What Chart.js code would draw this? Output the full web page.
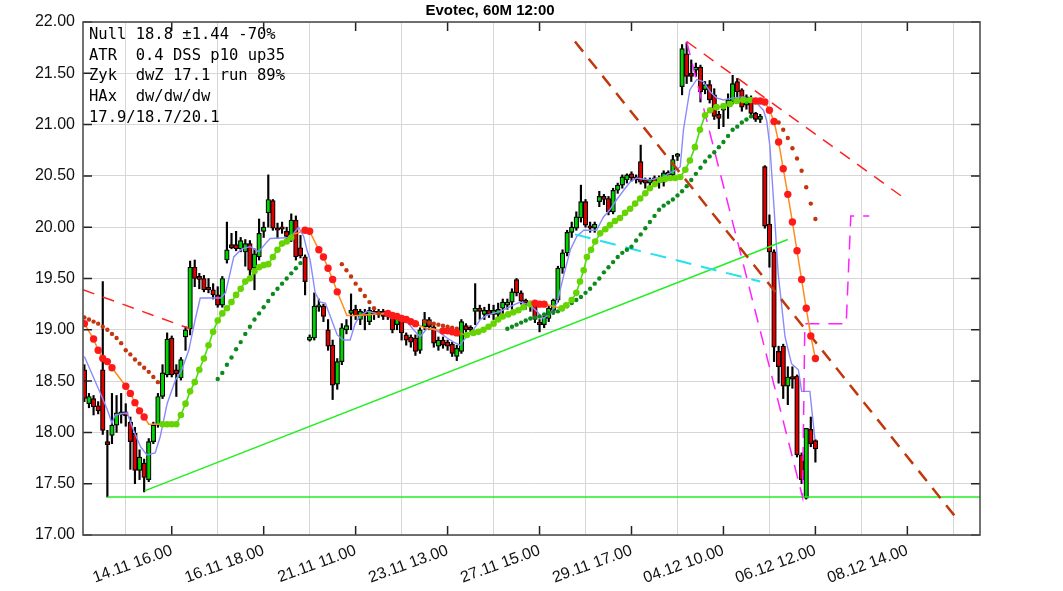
<!DOCTYPE html>
<html>
<head>
<meta charset="utf-8">
<script src="https://cdn.jsdelivr.net/npm/chart.js@4.4.0/dist/chart.umd.min.js"></script>
<style>
  html, body { margin: 0; padding: 0; background: #fff; overflow: hidden; }
  canvas { display: block; }
</style>
</head>
<body>
<canvas id="chart" width="1063" height="591" style="width:1063px;height:591px"></canvas>
<script>
// x ticks (bar index) and their labels
const tickIdx = [19, 39, 59, 79, 99, 119, 139, 159, 179];
const tickLabels = ['14.11 16.00', '16.11 18.00', '21.11 11.00', '23.11 13.00', '27.11 15.00',
    '29.11 17.00', '04.12 10.00', '06.12 12.00', '08.12 14.00'];

// 60 minute candles
const opens = [18.61,18.28,18.33,18.26,18.61,17.91,17.97,18.07,18.17,18.20,
    18.10,17.99,17.63,17.70,17.54,17.91,18.07,18.35,18.56,18.92,
    18.61,18.53,18.93,19.01,19.61,19.52,19.50,19.41,19.39,19.34,
    19.24,19.68,19.83,19.83,19.79,19.76,19.84,19.60,19.71,19.96,
    20.14,20.26,19.99,20.00,19.96,19.91,20.07,19.80,19.71,18.90,
    18.92,19.22,19.23,19.00,18.85,18.47,18.69,19.00,19.16,19.20,
    19.10,19.17,19.08,19.18,19.15,19.18,19.16,19.13,19.05,19.11,
    18.95,18.93,18.92,18.80,19.03,19.10,19.03,18.84,18.90,18.88,
    18.86,18.74,18.79,19.04,19.02,19.18,19.21,19.15,19.19,19.15,
    19.15,19.21,19.24,19.27,19.49,19.36,19.29,19.24,19.26,19.07,
    19.05,19.11,19.19,19.29,19.60,19.75,19.95,19.99,20.09,20.25,
    20.01,19.99,20.25,20.30,20.28,20.15,20.36,20.41,20.46,20.52,
    20.49,20.64,20.46,20.43,20.48,20.48,20.44,20.51,20.51,20.69,
    21.37,21.69,21.50,21.53,21.56,21.34,21.39,21.29,21.10,21.14,
    21.19,21.22,21.42,21.34,21.19,21.26,21.11,21.05,20.59,20.03,
    19.76,18.79,18.84,18.45,18.54,18.55,17.78,17.36,18.03,17.92];
const highs = [18.66,18.38,18.36,18.30,19.47,18.02,18.38,18.36,18.38,18.28,
    18.15,18.05,17.83,17.74,17.94,18.10,18.38,18.66,18.97,18.94,
    18.66,18.73,19.03,19.67,19.68,19.55,19.53,19.50,19.45,19.42,
    19.52,20.05,19.94,19.96,19.90,19.88,19.87,19.79,20.08,20.05,
    20.51,20.27,20.04,20.05,20.00,20.13,20.11,19.92,19.73,18.95,
    19.36,19.30,19.25,19.10,18.90,18.72,19.06,19.10,19.35,19.24,
    19.20,19.20,19.22,19.20,19.20,19.20,19.18,19.15,19.14,19.12,
    18.97,18.95,18.95,19.02,19.17,19.12,19.05,18.93,18.93,18.90,
    18.88,18.85,19.10,19.06,19.04,19.45,19.24,19.22,19.25,19.24,
    19.26,19.30,19.30,19.40,19.50,19.38,19.30,19.28,19.28,19.10,
    19.15,19.24,19.30,19.62,19.78,19.97,20.05,20.15,20.41,20.27,
    20.05,20.05,20.35,20.32,20.30,20.38,20.43,20.51,20.52,20.54,
    20.51,20.80,20.48,20.48,20.50,20.50,20.55,20.55,20.70,20.72,
    21.78,21.80,21.63,21.60,21.58,21.42,21.43,21.35,21.13,21.20,
    21.30,21.48,21.45,21.35,21.29,21.28,21.12,21.10,20.60,20.12,
    19.78,18.84,18.86,18.64,18.64,18.56,17.80,18.04,18.15,17.93];
const lows = [18.30,18.24,18.17,18.18,17.98,17.37,17.89,18.00,18.09,18.06,
    17.64,17.50,17.54,17.42,17.52,17.89,18.05,18.33,18.54,18.54,
    18.35,18.51,18.80,18.95,19.42,19.40,19.37,19.36,19.30,19.22,
    19.22,19.65,19.79,19.77,19.76,19.62,19.53,19.39,19.68,19.90,
    20.00,19.97,19.89,19.94,19.89,19.86,19.68,19.70,19.34,18.89,
    18.90,19.18,19.08,18.80,18.32,18.42,18.66,18.96,19.00,19.10,
    19.05,19.00,19.05,19.10,19.12,19.10,19.10,18.97,19.00,18.90,
    18.85,18.83,18.75,18.77,19.00,19.00,18.83,18.80,18.82,18.80,
    18.74,18.70,18.77,18.98,18.98,19.05,19.10,19.10,19.12,19.10,
    19.10,19.15,19.20,19.20,19.33,19.25,19.20,19.18,19.07,18.98,
    19.02,19.08,19.15,19.27,19.55,19.72,19.90,19.97,20.05,20.00,
    19.95,19.95,20.20,20.22,20.12,20.13,20.33,20.38,20.43,20.45,
    20.43,20.42,20.38,20.40,20.40,20.38,20.40,20.48,20.50,20.65,
    21.29,21.40,21.42,21.47,21.22,21.30,21.21,21.05,20.96,20.98,
    21.06,21.20,21.26,21.13,21.15,21.08,21.03,21.02,19.99,19.61,
    18.69,18.48,18.33,18.27,18.43,17.76,17.50,17.35,17.86,17.71];
const closes = [18.33,18.35,18.25,18.21,18.02,17.88,18.07,18.19,18.20,18.16,
    17.91,17.63,17.76,17.56,17.91,18.07,18.35,18.58,18.91,18.56,
    18.57,18.71,19.00,19.61,19.50,19.49,19.39,19.39,19.34,19.24,
    19.50,19.78,19.80,19.79,19.87,19.84,19.58,19.74,19.94,20.00,
    20.27,19.99,19.97,19.98,19.91,20.07,19.71,19.72,19.47,18.93,
    19.23,19.23,19.13,18.84,18.46,18.69,19.02,19.04,19.19,19.14,
    19.18,19.14,19.19,19.15,19.18,19.13,19.13,19.00,19.11,18.97,
    18.90,18.88,18.79,19.00,19.10,19.03,18.87,18.90,18.85,18.84,
    18.77,18.82,19.08,19.00,19.00,19.21,19.18,19.19,19.15,19.19,
    19.20,19.27,19.27,19.37,19.36,19.28,19.26,19.26,19.10,19.05,
    19.13,19.21,19.29,19.60,19.75,19.95,20.00,20.10,20.25,20.02,
    19.99,20.03,20.30,20.27,20.15,20.36,20.41,20.49,20.51,20.48,
    20.46,20.44,20.43,20.46,20.44,20.44,20.53,20.53,20.66,20.71,
    21.74,21.47,21.47,21.56,21.32,21.39,21.24,21.08,21.06,21.17,
    21.24,21.40,21.32,21.17,21.27,21.11,21.05,21.08,20.01,19.76,
    18.83,18.64,18.45,18.54,18.52,17.78,17.54,18.04,17.89,17.84];

// moving average [bar, price]
const maLine = [[0,18.74],[3.5,18.38],[5,18.22],[6,18.09],[6.7,18.17],[9.3,18.19],[10.7,18.02],[12.2,17.86],
    [13.6,17.78],[15.4,17.80],[16.5,17.96],[18,18.28],[19.8,18.51],[21.2,18.61],[22.7,18.80],[24.1,19.10],
    [25.2,19.31],[29.6,19.31],[30.7,19.36],[32.5,19.71],[34.3,19.79],[36.1,19.81],[37.9,19.76],[39.4,19.84],
    [40.4,19.89],[44.8,19.90],[46.6,20.00],[47.7,19.91],[48.4,19.78],[49.1,19.68],[50.2,19.36],[51.3,19.27],
    [52.4,19.26],[53.5,19.13],[55.0,18.95],[56.4,18.90],[57.8,18.90],[58.9,19.06],[60.0,19.14],[61.5,19.18],
    [63.6,19.16],[66.5,19.16],[68.0,19.11],[70.1,19.08],[71.6,19.00],[73.0,18.93],[74.5,19.01],[75.9,19.01],
    [77.4,18.97],[78.9,18.92],[80.3,18.88],[81.7,18.85],[83.2,18.94],[84.6,19.00],[86.1,19.10],[87.5,19.14],
    [90.4,19.18],[93.3,19.24],[94.8,19.27],[96.9,19.24],[98.4,19.18],[99.8,19.11],[101.3,19.16],[102.8,19.26],
    [104.2,19.52],[105.7,19.78],[107.1,19.91],[108.6,19.97],[111.4,19.97],[112.9,20.10],[114.3,20.17],
    [115.8,20.27],[117.3,20.36],[118.7,20.44],[120.1,20.48],[123.0,20.46],[125.9,20.49],[127.4,20.53],
    [128.8,20.56],[129.6,20.59],[130.3,20.95],[131.7,21.34],[133.2,21.44],[134.6,21.42],[136.1,21.32],
    [137.5,21.26],[139.0,21.24],[141.2,21.26],[143.3,21.27],[144.8,21.24],[146.2,21.21],[147.7,21.14],
    [148.4,21.04],[149.1,20.79],[149.9,20.26],[150.9,19.55],[152.4,18.93],[153.8,18.67],[155.3,18.61],
    [156.0,18.40],[157.8,18.40],[158.9,17.93]];

// falling stop (orange line, red dots)
const stopDownA = [[0,19.06],[2,18.91],[3,18.80],[4,18.72],[5,18.69],[6,18.63],[9,18.45],[10,18.38],
    [11,18.29],[12,18.21],[13,18.15],[14,18.08],[17.3,18.08]];
const stopDownB = [[45.5,19.93],[48,19.97],[49,19.96],[51,19.78],[52,19.71],[53,19.60],[54,19.49],[55,19.37],
    [57.1,19.14],[59.3,19.14],[66,19.16],[67,19.14],[68,19.13],[69,19.11],[70,19.10],[71,19.08],[72,19.06],
    [74,19.02],[78,18.99],[81,18.97],[83.2,18.95]];
const stopDownC = [[97.3,19.26],[98,19.26],[99,19.25],[100,19.25],[101,19.24],[103.6,19.21]];
const stopDownD = [[144.8,21.24],[146,21.23],[147,21.23],[148,21.22],[149,21.14],[150,21.03],[151,20.83],
    [152,20.57],[153,20.32],[154,20.05],[155,19.77],[156,19.49],[157,19.21],[158,18.94],[159,18.72]];
const stopDownDots = [[0,19.06],[2,18.91],[3,18.80],[4,18.72],[5,18.69],[6,18.63],[9,18.45],[10,18.38],
    [11,18.29],[12,18.21],[13,18.15],
    [48,19.97],[49,19.96],[51,19.78],[52,19.71],[53,19.60],[54,19.49],[55,19.37],
    [66,19.16],[67,19.14],[68,19.13],[69,19.11],[70,19.10],[71,19.08],[72,19.06],
    [78,18.99],[79,18.99],[80,18.98],[81,18.97],
    [98,19.26],[99,19.25],[100,19.25],
    [146,21.23],[147,21.23],[148,21.22],[149,21.14],[150,21.03],[151,20.83],[152,20.57],[153,20.32],
    [154,20.05],[155,19.77],[156,19.49],[157,19.21],[158,18.94],[159,18.72]];

// rising stop (light green)
const stopUpA = [[17,18.08],[18,18.08],[19,18.08],[20,18.08],[21,18.17],[22,18.28],[23,18.40],[24,18.49],
    [25,18.61],[26,18.72],[27,18.85],[28,18.98],[29,19.09],[30,19.16],[31,19.21],[32,19.27],[33,19.34],
    [34,19.40],[35,19.47],[36,19.50],[37,19.57],[38,19.61],[39,19.63],[40,19.64],[41,19.71],[42,19.78],
    [43,19.84],[44,19.86],[45,19.90]];
const stopUpB = [[83.2,18.95],[84.6,18.97],[85.7,18.98],[86.8,19.00],[87.9,19.03],[89.0,19.06],[90.0,19.10],
    [91.0,19.13],[92.2,19.15],[93.3,19.17],[94.4,19.19],[95.5,19.22],[97.0,19.25]];
const stopUpC = [[103.8,19.21],[104.8,19.24],[106.0,19.29],[107.0,19.36],[107.8,19.47],[108.6,19.58],
    [109.3,19.71],[110.2,19.78],[111.1,19.86],[112.2,19.94],[113.3,19.98],[114.3,20.02],[115.4,20.06],
    [116.5,20.09],[117.6,20.14],[118.7,20.18],[119.8,20.23],[120.9,20.28],[122.0,20.33],[123.0,20.38],
    [124.1,20.42],[125.2,20.46],[126.3,20.47],[127.4,20.48],[128.5,20.48],[129.6,20.49],[130.7,20.56],
    [131.7,20.65],[132.8,20.78],[133.9,20.95],[135.0,21.09],[136.1,21.14],[137.5,21.17],[139.0,21.18],
    [140.4,21.20],[141.9,21.23],[143.3,21.24],[144.8,21.24]];

// slow rising stop (dark green dots)
const slowUp = [[29,18.52],[30,18.58],[31,18.66],[32,18.73],[33,18.81],[34,18.88],[35,18.96],[36,19.03],
    [37,19.10],[38,19.16],[39,19.22],[40,19.28],[41,19.35],[42,19.40],[43,19.45],[44,19.50],[45,19.55],
    [46,19.60],[47,19.65],
    [92,19.01],[93,19.03],[94,19.05],[95,19.07],[96,19.09],[97,19.11],[98,19.12],[99,19.13],[100,19.15],
    [101,19.16],[102,19.17],[103,19.18],[104,19.20],[105,19.23],[106,19.26],[107,19.29],[108,19.32],
    [109,19.36],[110,19.40],[111,19.45],[112,19.50],[113,19.56],[114,19.61],[115,19.66],[116,19.71],
    [117,19.75],[118,19.78],[119,19.81],[120,19.87],[121,19.93],[122,19.99],[123,20.05],[124,20.11],
    [125,20.17],[126,20.21],[127,20.24],[128,20.27],[129,20.31],[130,20.35],[131,20.40],[132,20.46],
    [133,20.52],[134,20.58],[135,20.64],[136,20.69],[137,20.73],[138,20.78],[139,20.83],[140,20.89],
    [141,20.95],[142,20.98],[143,21.02],[144,21.05],[145,21.08]];

// slow falling stop (brown dots)
const slowDown = [[0,19.12],[1,19.10],[2,19.08],[3,19.06],[4,19.03],[5,19.00],[6,18.96],[7,18.92],[8,18.87],
    [9,18.80],[10,18.76],[11,18.71],[12,18.67],[13,18.63],[14,18.59],[15,18.54],[16,18.49],
    [56,19.64],[57,19.58],[58,19.52],[59,19.45],[60,19.39],[61,19.33],[62,19.27],[63,19.21],[64,19.16],
    [74,19.08],[75,19.07],[76,19.06],[77,19.05],[78,19.04],[79,19.03],[80,19.02],[81,19.01],
    [151,21.02],[152,20.95],[153,20.87],[154,20.77],[155,20.67],[156,20.55],[157,20.39],[158,20.23],[159,20.08]];

// drawn trend lines [bar, price]
const supportTrend = [[13.1,17.43],[153.0,19.88]];
const supportFloor = [[5,17.37],[195,17.37]];
const resistLeft = [[-0.3,19.39],[23.0,19.01]];
const resistRight = [[131.0,21.81],[177.8,20.30]];
const channelLine = [[106.7,21.81],[190.3,17.13]];
const cyanLine = [[106.7,19.93],[147.0,19.47]];
const projection = [[131.0,21.81],[156.2,17.37],[156.7,19.06],[165.7,19.06],[166.7,20.11],[170.7,20.11]];

const infoLines = ['Null 18.8 ±1.44 -70%', 'ATR  0.4 DSS p10 up35', 'Zyk  dwZ 17.1 run 89%',
    'HAx  dw/dw/dw', '17.9/18.7/20.1'];

const idx = opens.map((_, i) => i);
const pts = arr => arr.map(([x, y]) => ({ x, y }));

function lineSet(arr, color, width, dash, order) {
    return {
        type: 'line', data: pts(arr), borderColor: color, borderWidth: width,
        borderDash: dash || [], pointRadius: 0, tension: 0, order: order
    };
}
function dotSet(arr, color, radius, order) {
    return {
        type: 'line', data: pts(arr), showLine: false, pointRadius: radius,
        pointBackgroundColor: color, pointBorderWidth: 0, order: order
    };
}
function dottedLine(arr, lineColor, dotColor, radius, order) {
    return {
        type: 'line', data: pts(arr), borderColor: lineColor, borderWidth: 1.6, tension: 0,
        pointRadius: radius, pointBackgroundColor: dotColor, pointBorderWidth: 0, order: order
    };
}

const framePlugin = {
    id: 'frame',
    afterDraw(chart) {
        const { ctx, chartArea: a, scales } = chart;
        ctx.save();
        ctx.strokeStyle = '#222';
        ctx.lineWidth = 1.5;
        // inner tick marks
        scales.y.ticks.forEach(t => {
            const y = scales.y.getPixelForValue(t.value);
            ctx.beginPath();
            ctx.moveTo(a.left, y); ctx.lineTo(a.left + 9, y);
            ctx.moveTo(a.right, y); ctx.lineTo(a.right - 9, y);
            ctx.stroke();
        });
        tickIdx.forEach(v => {
            const x = scales.x.getPixelForValue(v);
            ctx.beginPath();
            ctx.moveTo(x, a.bottom); ctx.lineTo(x, a.bottom - 9);
            ctx.moveTo(x, a.top); ctx.lineTo(x, a.top + 9);
            ctx.stroke();
        });
        ctx.strokeStyle = '#505050';
        ctx.lineWidth = 1.6;
        ctx.strokeRect(a.left, a.top, a.right - a.left, a.bottom - a.top);

        // indicator summary, top left
        ctx.fillStyle = '#000';
        ctx.font = '15.5px "DejaVu Sans Mono", monospace';
        ctx.textBaseline = 'alphabetic';
        infoLines.forEach((s, k) => ctx.fillText(s, a.left + 6, 38.8 + k * 20.8));
        ctx.restore();
    }
};

new Chart(document.getElementById('chart'), {
    type: 'bar',
    data: {
        datasets: [
            {
                type: 'bar', data: idx.map(i => ({ x: i, y: [lows[i], highs[i]] })),
                backgroundColor: '#000', borderWidth: 0, grouped: false,
                categoryPercentage: 1, barPercentage: 1, maxBarThickness: 1.5, order: 20
            },
            {
                type: 'bar', data: idx.map(i => ({ x: i, y: [opens[i], closes[i]] })),
                backgroundColor: idx.map(i => closes[i] >= opens[i] ? '#00d400' : '#dd0000'),
                borderColor: '#000', borderWidth: 1.2, borderSkipped: false, minBarLength: 2.5,
                grouped: false, categoryPercentage: 1, barPercentage: 1, maxBarThickness: 5, order: 19
            },
            lineSet(maLine, '#8a8aff', 1.4, null, 12),
            lineSet(supportTrend, '#22ee22', 1.5, null, 11),
            lineSet(supportFloor, '#22ee22', 1.5, null, 11),
            lineSet(resistLeft, '#ff2020', 1.5, [12, 9], 10),
            lineSet(resistRight, '#ff2020', 1.5, [12, 9], 10),
            lineSet(channelLine, '#c0380c', 2.5, [13, 9], 10),
            lineSet(cyanLine, '#22e2f0', 2, [16, 10], 10),
            lineSet(projection, '#ff22ff', 1.5, [14, 9], 10),
            lineSet(stopDownA, '#ff8c1a', 1.5, null, 6),
            lineSet(stopDownB, '#ff8c1a', 1.5, null, 6),
            lineSet(stopDownC, '#ff8c1a', 1.5, null, 6),
            lineSet(stopDownD, '#ff8c1a', 1.5, null, 6),
            dotSet(stopDownDots, '#ff1a1a', 3.7, 2),
            dottedLine(stopUpA, '#44e010', '#66d400', 3.3, 3),
            dottedLine(stopUpB, '#44e010', '#66d400', 3.3, 3),
            dottedLine(stopUpC, '#44e010', '#66d400', 3.3, 3),
            dotSet(slowUp, '#0c8a1c', 2.2, 4),
            dotSet(slowDown, '#c4360e', 2.2, 4)
        ]
    },
    options: {
        responsive: false,
        animation: false,
        events: [],
        layout: { padding: { top: 0, right: 83, left: 0, bottom: 0 } },
        plugins: {
            legend: { display: false },
            tooltip: { enabled: false },
            title: {
                display: true, text: 'Evotec, 60M 12:00', color: '#000',
                font: { family: 'Liberation Sans', size: 15, weight: 'bold' },
                padding: { top: 2, bottom: 2 }
            }
        },
        scales: {
            x: {
                type: 'linear', min: -0.3, max: 194.8, offset: false,
                afterBuildTicks: axis => { axis.ticks = tickIdx.map(v => ({ value: v })); },
                afterFit: axis => { axis.height = 56; },
                grid: { color: '#d6d6d6', lineWidth: 1, drawTicks: false },
                border: { display: false },
                ticks: {
                    autoSkip: false, minRotation: 20, maxRotation: 20, padding: 6, color: '#111',
                    font: { family: 'Liberation Sans', size: 16 },
                    callback: v => tickLabels[tickIdx.indexOf(v)] || ''
                }
            },
            y: {
                min: 17, max: 22,
                afterFit: axis => { axis.width = 83; },
                grid: { color: '#d6d6d6', lineWidth: 1, drawTicks: false },
                border: { display: false },
                ticks: {
                    stepSize: 0.5, padding: 8, color: '#111',
                    font: { family: 'Liberation Sans', size: 16 },
                    callback: v => v.toFixed(2)
                }
            }
        }
    },
    plugins: [framePlugin]
});
</script>
</body>
</html>
